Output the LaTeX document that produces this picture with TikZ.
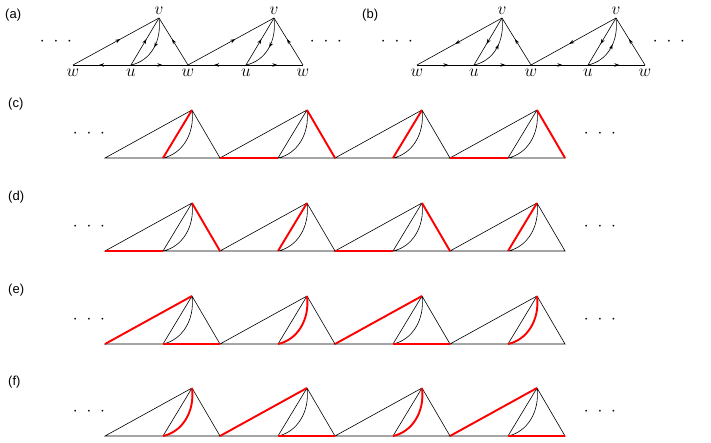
\documentclass[tikz,border=0pt]{standalone}
\usepackage{fontspec}
\newfontfamily\tagfont{Liberation Sans}
\usetikzlibrary{arrows.meta,decorations.markings}

\begin{document}
\begin{tikzpicture}[x=1pt,y=-1pt,
    edge/.style={line width=0.6pt},
    hot/.style={red, line width=1.9pt},
    vtx/.style={coordinate},
    lab/.style={font=\fontsize{17}{19}\selectfont, inner sep=2pt},
    tag/.style={font=\tagfont\fontsize{13}{15}\selectfont, anchor=west, inner sep=0pt},
    dots/.style={font=\fontsize{18}{20}\selectfont, inner sep=0pt},
    mid/.style={postaction={decorate, decoration={markings,
        mark=at position 0.55 with {\arrow{Stealth[length=5pt,width=3.6pt]}}}}},
    midrev/.style={postaction={decorate, decoration={markings,
        mark=at position 0.5 with {\arrowreversed{Stealth[length=5pt,width=3.6pt]}}}}},
    swoop/.style={to path={.. controls +(19,-4) and +(3,24) .. (\tikztotarget)}}
  ]
    \useasboundingbox (0,0) rectangle (711,443);

    % (a) first orientation
    \node[tag] (taga) at (5,15) {(a)};
    \foreach \i in {0,1,2}
      \node[vtx, label={[lab,label distance=2pt]below:$w$}] (aw\i) at (73+115*\i,65) {};
    \foreach \i in {0,1} {
      \node[vtx, label={[lab,label distance=2pt]below:$u$}] (au\i) at (131+115*\i,65) {};
      \node[vtx, label={[lab,label distance=1pt]above:$v$}] (av\i) at (159+115*\i,18) {};
    }
    \foreach \i [evaluate=\i as \j using int(\i+1)] in {0,1} {
      \draw[edge,mid] (aw\i) -- (av\i);
      \draw[edge,mid] (au\i) -- (av\i);
      \draw[edge,midrev] (au\i) to[swoop] (av\i);
      \draw[edge,mid] (aw\j) -- (av\i);
      \draw[edge,mid] (au\i) -- (aw\i);
      \draw[edge,mid] (au\i) -- (aw\j);
    }
    \node[dots] (adl) at (56,42) {$\cdot\hspace{5pt}\cdot\hspace{5pt}\cdot$};
    \node[dots] (adr) at (326,42) {$\cdot\hspace{5pt}\cdot\hspace{5pt}\cdot$};

    % (b) second orientation
    \node[tag] (tagb) at (362,15) {(b)};
    \foreach \i in {0,1,2}
      \node[vtx, label={[lab,label distance=2pt]below:$w$}] (bw\i) at (417+114*\i,65) {};
    \foreach \i in {0,1} {
      \node[vtx, label={[lab,label distance=2pt]below:$u$}] (bu\i) at (474+114*\i,65) {};
      \node[vtx, label={[lab,label distance=1pt]above:$v$}] (bv\i) at (502+114*\i,18) {};
    }
    \foreach \i [evaluate=\i as \j using int(\i+1)] in {0,1} {
      \draw[edge,mid] (bv\i) -- (bw\i);
      \draw[edge,mid] (bv\i) -- (bu\i);
      \draw[edge,mid] (bu\i) to[swoop] (bv\i);
      \draw[edge,mid] (bw\j) -- (bv\i);
      \draw[edge,mid] (bw\i) -- (bu\i);
      \draw[edge,mid] (bu\i) -- (bw\j);
    }
    \node[dots] (bdl) at (397,42) {$\cdot\hspace{5pt}\cdot\hspace{5pt}\cdot$};
    \node[dots] (bdr) at (669,42) {$\cdot\hspace{5pt}\cdot\hspace{5pt}\cdot$};

    % (c)-(f) plain chains
    \foreach \r/\yb in {c/158,d/251,e/344,f/436} {
      \node[tag] (tag\r) at (8,\yb-54) {(\r)};
      \foreach \i in {0,...,4}
        \coordinate (\r w\i) at (105+115*\i,\yb);
      \foreach \i in {0,...,3} {
        \coordinate (\r u\i) at (163+115*\i,\yb);
        \coordinate (\r v\i) at (192+115*\i,\yb-48);
      }
      \foreach \i [evaluate=\i as \j using int(\i+1)] in {0,...,3}
        \draw[edge] (\r w\i) -- (\r v\i) -- (\r w\j) -- cycle
          (\r u\i) -- (\r v\i) (\r u\i) to[swoop] (\r v\i);
      \node[dots] (\r dl) at (89,\yb-24) {$\cdot\hspace{5pt}\cdot\hspace{5pt}\cdot$};
      \node[dots] (\r dr) at (600,\yb-24) {$\cdot\hspace{5pt}\cdot\hspace{5pt}\cdot$};
    }

    % red edges
    \foreach \i [evaluate=\i as \j using int(\i+1)] in {1,3}
      \draw[hot] (cw\i) -- (cu\i) (cv\i) -- (cw\j);
    \foreach \i in {0,2}
      \draw[hot] (cu\i) -- (cv\i);

    \foreach \i [evaluate=\i as \j using int(\i+1)] in {0,2}
      \draw[hot] (dw\i) -- (du\i) (dv\i) -- (dw\j);
    \foreach \i in {1,3}
      \draw[hot] (du\i) -- (dv\i);

    \foreach \i [evaluate=\i as \j using int(\i+1)] in {0,2}
      \draw[hot] (ew\i) -- (ev\i) (eu\i) -- (ew\j);
    \foreach \i in {1,3}
      \draw[hot] (eu\i) to[swoop] (ev\i);

    \foreach \i [evaluate=\i as \j using int(\i+1)] in {1,3}
      \draw[hot] (fw\i) -- (fv\i) (fu\i) -- (fw\j);
    \foreach \i in {0,2}
      \draw[hot] (fu\i) to[swoop] (fv\i);
\end{tikzpicture}
\end{document}
